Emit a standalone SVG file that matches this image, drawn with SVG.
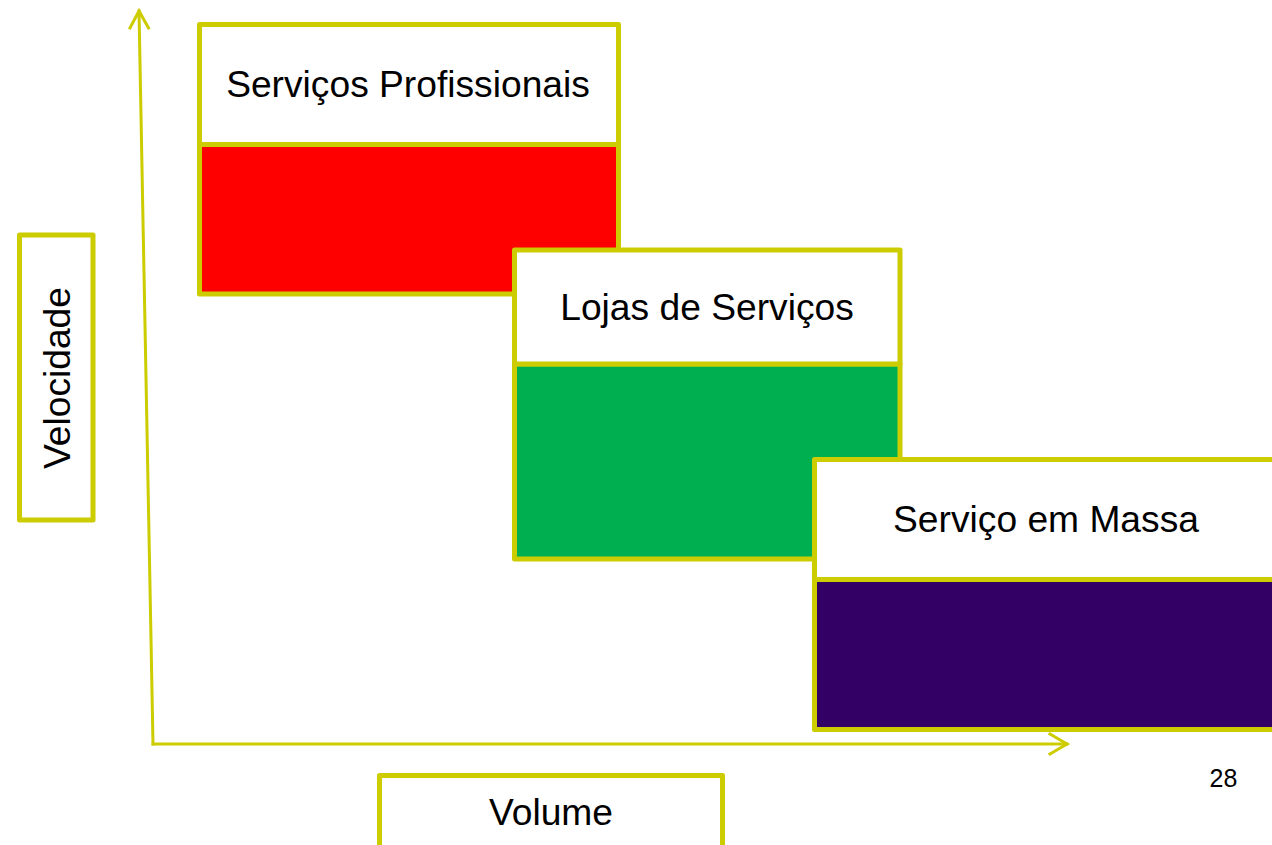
<svg xmlns="http://www.w3.org/2000/svg" width="1272" height="845" viewBox="0 0 1272 845">
<style>
.bx{stroke:#CCCC00;stroke-width:5;stroke-linejoin:round}
.hd{fill:#FFFFFF}
.lb{font-family:"Liberation Sans",Arial,sans-serif;font-size:37.2px;fill:#000000;text-anchor:middle}
.ax{stroke:#CCCC00;stroke-width:3;fill:none;stroke-linecap:square;stroke-linejoin:miter}
</style>
<rect width="1272" height="845" fill="#FFFFFF"/>
<g id="connectors">
<path class="ax" d="M153 744 L139 11"/>
<path class="ax" d="M130 28 L139 11 L148.5 28"/>
<path class="ax" d="M153 744 L1067 744"/>
<path class="ax" d="M1050 734 L1067 744 L1050 754"/>
</g>
<g id="node-profissionais">
<rect class="bx" x="199.5" y="144.5" width="419" height="149.5" fill="#FF0000"/>
<rect class="bx hd" x="199.5" y="24.5" width="419" height="120"/>
<text class="lb" x="408" y="97">Serviços Profissionais</text>
</g>
<g id="node-lojas">
<rect class="bx" x="514.5" y="364" width="385.5" height="195" fill="#00B050"/>
<rect class="bx hd" x="514.5" y="250" width="385.5" height="114"/>
<text class="lb" x="707" y="320">Lojas de Serviços</text>
</g>
<g id="node-massa">
<rect class="bx" x="814.5" y="579.5" width="464" height="150" fill="#330066"/>
<rect class="bx hd" x="814.5" y="459.5" width="464" height="120"/>
<text class="lb" x="1046" y="532">Serviço em Massa</text>
</g>
<g id="node-velocidade">
<rect class="bx hd" x="19.5" y="235" width="73.5" height="285"/>
<text class="lb" x="70" y="378" transform="rotate(-90 70 378)">Velocidade</text>
</g>
<g id="node-volume">
<rect class="bx hd" x="379.5" y="775.5" width="343" height="100"/>
<text class="lb" x="551" y="825">Volume</text>
</g>
<text id="page-number" x="1223.5" y="787" font-family="Liberation Sans, Arial, sans-serif" font-size="25" text-anchor="middle" fill="#000000">28</text>
</svg>
